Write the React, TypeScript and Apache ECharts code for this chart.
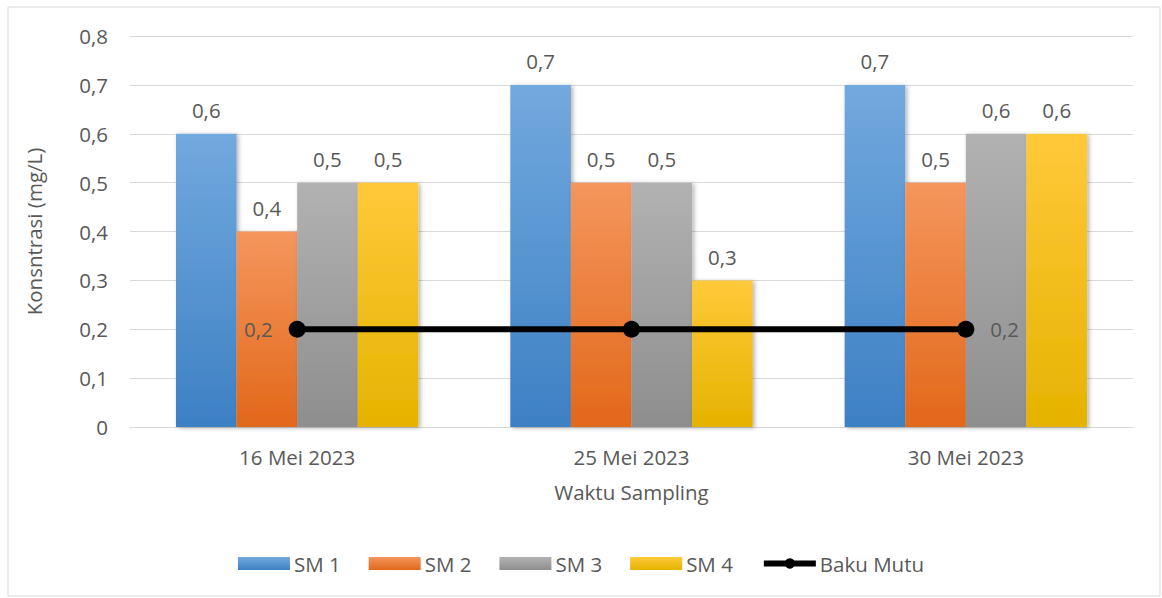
import React, { useEffect, useRef } from "react";
import * as echarts from "echarts";

const categories = ["16 Mei 2023", "25 Mei 2023", "30 Mei 2023"];
const sm1 = [0.6, 0.7, 0.7];
const sm2 = [0.4, 0.5, 0.5];
const sm3 = [0.5, 0.5, 0.6];
const sm4 = [0.5, 0.3, 0.6];
const bakuMutu = [0.2, 0.2, 0.2];
const bakuLabelPos = ["left", "none", "right"];

const FONT = "'Open Sans', 'Liberation Sans', sans-serif";
const TXT = "#595959";
const FS = 20.5;

const grad = (top: string, bottom: string) =>
  new echarts.graphic.LinearGradient(0, 0, 0, 1, [
    { offset: 0, color: top },
    { offset: 1, color: bottom },
  ]);

const fmt = (v: number) => v.toFixed(1).replace(".", ",");

export default function App() {
  const ref = useRef<HTMLDivElement>(null);
  useEffect(() => {
    if (!ref.current) return;
    const chart = echarts.init(ref.current, undefined, { renderer: "svg" });
    const barLabel = {
      show: true,
      position: "top",
      distance: 13,
      color: TXT,
      fontSize: FS,
      fontFamily: FONT,
      formatter: (p: any) => fmt(p.value),
    };
    const barSeries = (name: string, data: number[], top: string, bottom: string) => ({
      name,
      type: "bar",
      data,
      barGap: "0%",
      barCategoryGap: "27.5%",
      itemStyle: {
        color: grad(top, bottom),
        shadowColor: "rgba(0,0,0,0.3)",
        shadowBlur: 4,
        shadowOffsetX: 2,
        shadowOffsetY: 1,
      },
      label: barLabel,
    });
    chart.setOption({
      animation: false,
      textStyle: { fontFamily: FONT },
      graphic: [
        {
          type: "rect",
          shape: { x: 8, y: 7, width: 1152, height: 589 },
          style: { fill: "none", stroke: "#d9d9d9", lineWidth: 1 },
          silent: true,
        },
      ],
      grid: { left: 130, right: 29, top: 36, bottom: 171 },
      legend: {
        top: 548,
        left: "center",
        itemWidth: 52,
        itemHeight: 13,
        itemGap: 28,
        textStyle: { color: TXT, fontSize: FS, fontFamily: FONT, padding: [0, 0, 0, -1] },
        data: [
          { name: "SM 1", icon: "rect" },
          { name: "SM 2", icon: "rect" },
          { name: "SM 3", icon: "rect" },
          { name: "SM 4", icon: "rect" },
          { name: "Baku Mutu", lineStyle: { width: 6 } },
        ],
      },
      xAxis: {
        type: "category",
        data: categories,
        name: "Waktu Sampling",
        nameLocation: "middle",
        nameGap: 54,
        nameTextStyle: { color: TXT, fontSize: FS, fontFamily: FONT },
        axisLine: { lineStyle: { color: "#d9d9d9", width: 1 } },
        axisTick: { show: false },
        axisLabel: { color: TXT, fontSize: FS, margin: 19, fontFamily: FONT },
      },
      yAxis: {
        type: "value",
        min: 0,
        max: 0.8,
        interval: 0.1,
        name: "Konsntrasi (mg/L)",
        nameLocation: "middle",
        nameGap: 86,
        nameTextStyle: { color: TXT, fontSize: FS, fontFamily: FONT },
        axisLine: { show: false },
        axisTick: { show: false },
        axisLabel: {
          color: TXT,
          fontSize: FS,
          margin: 22,
          fontFamily: FONT,
          formatter: (v: number) => (v === 0 ? "0" : fmt(v)),
        },
        splitLine: { lineStyle: { color: "#d9d9d9", width: 1 } },
      },
      series: [
        barSeries("SM 1", sm1, "#72a9de", "#3d80c4"),
        barSeries("SM 2", sm2, "#f5965d", "#e2681a"),
        barSeries("SM 3", sm3, "#b2b2b2", "#8e8e8e"),
        barSeries("SM 4", sm4, "#ffc93a", "#e5b300"),
        {
          name: "Baku Mutu",
          type: "line",
          data: bakuMutu.map((v, i) => ({
            value: v,
            label: {
              show: bakuLabelPos[i] !== "none",
              position: bakuLabelPos[i] === "none" ? "left" : bakuLabelPos[i],
              distance: 16,
            },
          })),
          symbol: "circle",
          symbolSize: 17,
          z: 5,
          lineStyle: { color: "#000", width: 6 },
          itemStyle: { color: "#000" },
          label: {
            color: TXT,
            fontSize: FS,
            fontFamily: FONT,
            formatter: (p: any) => fmt(p.value),
          },
        },
      ],
    });
    return () => chart.dispose();
  }, []);
  return (
    <div
      ref={ref}
      style={{ position: "absolute", left: 0, top: 0, width: 1162, height: 598 }}
    />
  );
}
